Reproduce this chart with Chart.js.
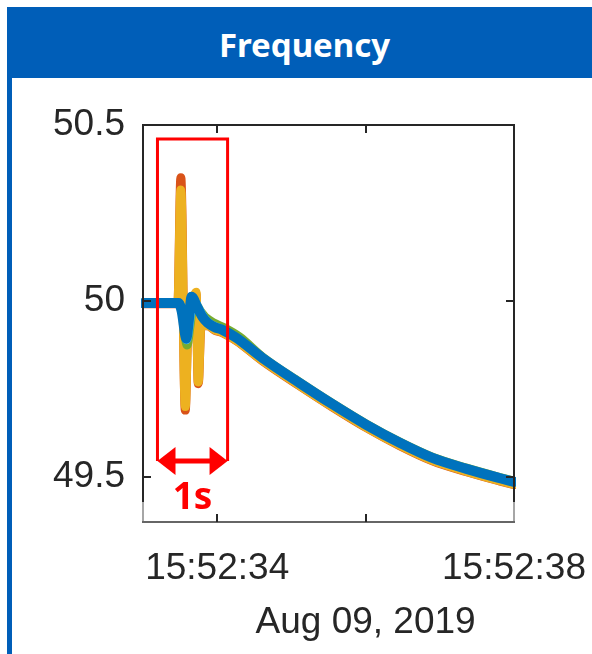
<!DOCTYPE html>
<html>
<head>
<meta charset="utf-8">
<title>Frequency</title>
<script src="https://cdn.jsdelivr.net/npm/chart.js@4.4.0/dist/chart.umd.min.js"></script>
<style>
  html, body { margin: 0; padding: 0; background: #fff; }
  body { width: 592px; height: 654px; position: relative; overflow: hidden; }
  .panel-border { position: absolute; left: 7px; top: 7px; width: 5px; height: 647px; background: #005EB8; }
  .header {
    position: absolute; left: 7px; top: 7px; width: 585px; height: 71px;
    background: #005EB8; color: #fff; text-align: center;
    font: bold 33px "Noto Sans", sans-serif; line-height: 71px;
    padding: 2px 0 0 10px; box-sizing: border-box;
  }
  #chart { position: absolute; left: 12px; top: 78px; }
</style>
</head>
<body>
<div class="panel-border"></div>
<div class="header">Frequency</div>
<canvas id="chart" width="580" height="576"></canvas>

<script>
// Tiempos en segundos despues de las 15:52:00, frecuencia en Hz
const timeBlue = [33.00, 33.48, 33.52, 33.585, 33.615, 33.655, 33.73, 33.80, 33.87, 33.96, 34.07, 34.26, 34.61, 35.11, 35.55, 36.01, 36.46, 36.90, 37.36, 37.80, 38.00];
const freqBlue = [49.994, 49.994, 49.972, 49.893, 49.94, 50.012, 49.983, 49.955, 49.938, 49.926, 49.918, 49.895, 49.838, 49.767, 49.707, 49.648, 49.597, 49.554, 49.523, 49.497, 49.486];

const timeLightBlue = [33.00, 33.48, 33.53, 33.59, 33.625, 33.67, 33.75, 33.82, 33.90, 34.07, 34.26, 34.61, 35.11, 36.01, 36.90, 37.80, 38.00];
const freqLightBlue = [49.994, 49.994, 49.972, 49.89, 49.935, 50.005, 49.978, 49.952, 49.935, 49.918, 49.895, 49.838, 49.767, 49.648, 49.554, 49.497, 49.486];

const timeGreen = [33.00, 33.48, 33.53, 33.595, 33.63, 33.685, 33.77, 33.85, 33.96, 34.10, 34.30, 34.61, 35.11, 35.55, 36.01, 36.46, 36.90, 37.36, 37.80, 38.00];
const freqGreen = [49.994, 49.994, 49.97, 49.875, 49.925, 49.998, 49.972, 49.952, 49.937, 49.923, 49.898, 49.841, 49.769, 49.709, 49.650, 49.599, 49.556, 49.525, 49.499, 49.488];

const timeYellow = [33.00, 33.47, 33.51, 33.57, 33.60, 33.66, 33.715, 33.745, 33.78, 33.87, 33.96, 34.07, 34.26, 34.61, 35.11, 35.55, 36.01, 36.46, 36.90, 37.36, 37.80, 38.00];
const freqYellow = [49.993, 49.993, 50.315, 49.70, 49.90, 49.98, 50.025, 49.77, 49.93, 49.931, 49.919, 49.911, 49.888, 49.831, 49.760, 49.700, 49.641, 49.590, 49.547, 49.516, 49.490, 49.479];

const timeOrange = [33.00, 33.47, 33.51, 33.57, 33.60, 33.66, 33.715, 33.745, 33.78, 33.87, 33.96, 34.07, 34.26, 34.61, 35.11, 35.55, 36.01, 36.46, 36.90, 37.36, 37.80, 38.00];
const freqOrange = [49.992, 49.992, 50.35, 49.69, 49.90, 49.978, 50.02, 49.765, 49.925, 49.930, 49.918, 49.910, 49.887, 49.830, 49.759, 49.699, 49.640, 49.589, 49.546, 49.515, 49.489, 49.478];

// Ejes
const xTickSeconds = [34, 36, 38];
const xTickLabels = ['15:52:34', ['', 'Aug 09, 2019'], '15:52:38'];
const yTickValues = [49.5, 50, 50.5];
const yTickLabels = ['49.5', '50', '50.5'];

// Recuadro rojo de 1 s
const spanTimes = [33.195, 34.14];
const spanFreqTop = 50.46;
const spanFreqArrow = 49.545;
const spanText = '1s';
const spanTextFreq = 49.409;

function toPoints(ts, vs) {
  return ts.map(function (t, i) { return { x: t, y: vs[i] }; });
}

function lineSet(label, ts, vs, color, width) {
  return {
    label: label,
    data: toPoints(ts, vs),
    borderColor: color,
    borderWidth: width,
    pointRadius: 0,
    borderCapStyle: 'round',
    borderJoinStyle: 'round',
    cubicInterpolationMode: 'monotone',
    clip: 2,
  };
}

const framePlugin = {
  id: 'frame',
  afterDatasetsDraw(chart) {
    const ctx = chart.ctx;
    const a = chart.chartArea;
    const x = chart.scales.x;
    const y = chart.scales.y;
    const yBreak = a.bottom - 20;
    ctx.save();
    ctx.lineWidth = 2;

    // caja superior oscura
    ctx.strokeStyle = '#262626';
    ctx.beginPath();
    ctx.moveTo(a.left, yBreak);
    ctx.lineTo(a.left, a.top);
    ctx.lineTo(a.right, a.top);
    ctx.lineTo(a.right, yBreak);
    ctx.stroke();

    // parte inferior gris (eje de tiempo)
    ctx.strokeStyle = '#a6a6a6';
    ctx.beginPath();
    ctx.moveTo(a.left, yBreak);
    ctx.lineTo(a.left, a.bottom);
    ctx.moveTo(a.right, yBreak);
    ctx.lineTo(a.right, a.bottom);
    ctx.stroke();
    ctx.strokeStyle = '#666666';
    ctx.beginPath();
    ctx.moveTo(a.left - 1, a.bottom);
    ctx.lineTo(a.right + 1, a.bottom);
    ctx.stroke();

    // marcas hacia dentro
    const tl = 8;
    ctx.strokeStyle = '#262626';
    ctx.beginPath();
    [49.5, 50].forEach(function (v) {
      const py = Math.round(y.getPixelForValue(v));
      ctx.moveTo(a.left, py); ctx.lineTo(a.left + tl, py);
      ctx.moveTo(a.right, py); ctx.lineTo(a.right - tl, py);
    });
    [34, 36].forEach(function (v) {
      const px = Math.round(x.getPixelForValue(v));
      ctx.moveTo(px, a.top); ctx.lineTo(px, a.top + tl);
      ctx.moveTo(px, a.bottom); ctx.lineTo(px, a.bottom - tl);
    });
    ctx.stroke();

    // anotacion roja
    const x0 = x.getPixelForValue(spanTimes[0]);
    const x1 = x.getPixelForValue(spanTimes[1]);
    const yt = y.getPixelForValue(spanFreqTop);
    const ya = y.getPixelForValue(spanFreqArrow);
    ctx.strokeStyle = '#ff0000';
    ctx.fillStyle = '#ff0000';
    ctx.lineWidth = 3;
    ctx.beginPath();
    ctx.moveTo(x0, ya);
    ctx.lineTo(x0, yt);
    ctx.lineTo(x1, yt);
    ctx.lineTo(x1, ya);
    ctx.stroke();

    const head = 18, half = 14;
    ctx.lineWidth = 5;
    ctx.beginPath();
    ctx.moveTo(x0 + head - 2, ya);
    ctx.lineTo(x1 - head + 2, ya);
    ctx.stroke();
    ctx.beginPath();
    ctx.moveTo(x0, ya);
    ctx.lineTo(x0 + head, ya - half);
    ctx.lineTo(x0 + head, ya + half);
    ctx.closePath();
    ctx.fill();
    ctx.beginPath();
    ctx.moveTo(x1, ya);
    ctx.lineTo(x1 - head, ya - half);
    ctx.lineTo(x1 - head, ya + half);
    ctx.closePath();
    ctx.fill();

    ctx.font = 'bold 37px "Noto Sans"';
    ctx.textAlign = 'center';
    ctx.textBaseline = 'alphabetic';
    ctx.fillText(spanText, (x0 + x1) / 2, y.getPixelForValue(spanTextFreq));
    ctx.restore();
  }
};

const axisFont = { family: '"Liberation Sans", Arial, sans-serif', size: 37 };

new Chart(document.getElementById('chart'), {
  type: 'line',
  data: {
    datasets: [
      lineSet('Blue', timeBlue, freqBlue, '#0072BD', 10),
      lineSet('Light blue', timeLightBlue, freqLightBlue, '#4DBEEE', 9),
      lineSet('Green', timeGreen, freqGreen, '#77AC30', 9),
      lineSet('Yellow', timeYellow, freqYellow, '#EDB120', 9),
      lineSet('Orange', timeOrange, freqOrange, '#D95319', 9),
    ],
  },
  options: {
    responsive: false,
    animation: false,
    layout: { padding: { left: 0, right: 78, top: 47, bottom: 10 } },
    plugins: { legend: { display: false }, tooltip: { enabled: false } },
    scales: {
      x: {
        type: 'linear',
        min: 33,
        max: 38,
        grid: { display: false, drawTicks: false },
        border: { display: false },
        afterBuildTicks: function (scale) {
          scale.ticks = xTickSeconds.map(function (v) { return { value: v }; });
        },
        afterFit: function (scale) {
          scale.height = 122;
          scale.paddingLeft = 0;
          scale.paddingRight = 0;
        },
        ticks: {
          autoSkip: false,
          maxRotation: 0,
          padding: 20,
          color: '#262626',
          font: Object.assign({ lineHeight: 1.46 }, axisFont),
          callback: function (value, index) { return xTickLabels[index]; },
        },
      },
      y: {
        min: 49.372,
        max: 50.5,
        grid: { display: false, drawTicks: false },
        border: { display: false },
        afterBuildTicks: function (scale) {
          scale.ticks = yTickValues.map(function (v) { return { value: v }; });
        },
        afterFit: function (scale) {
          scale.width = 131;
          scale.paddingTop = 0;
          scale.paddingBottom = 0;
        },
        ticks: {
          padding: 18,
          color: '#262626',
          font: axisFont,
          callback: function (value, index) { return yTickLabels[index]; },
        },
      },
    },
  },
  plugins: [framePlugin],
});
</script>
</body>
</html>
